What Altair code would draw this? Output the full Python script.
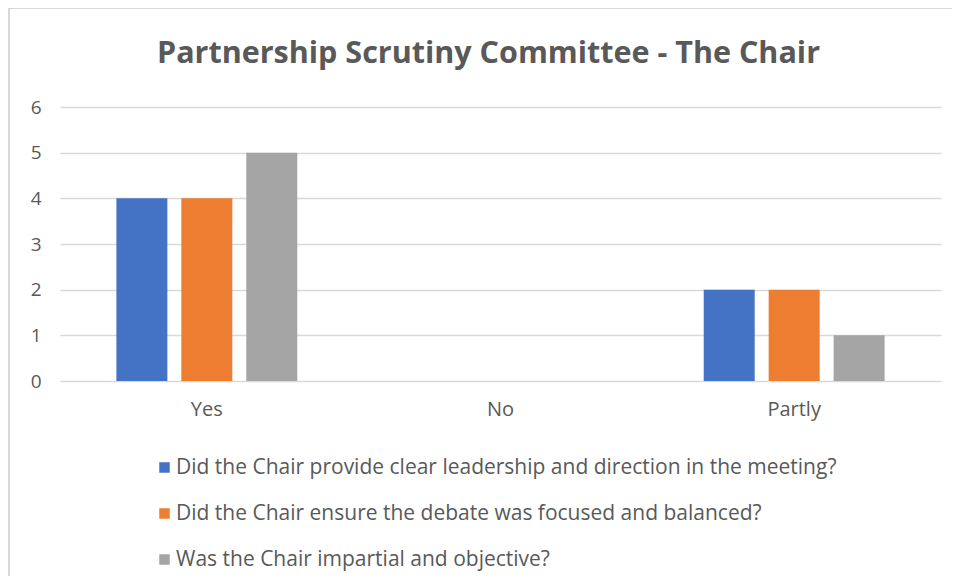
import altair as alt
import pandas as pd

categories = ["Yes", "No", "Partly"]
series_names = [
    "Did the Chair provide clear leadership and direction in the meeting?",
    "Did the Chair ensure the debate was focused and balanced?",
    "Was the Chair impartial and objective?",
]
leadership = [4, 0, 2]
focused = [4, 0, 2]
impartial = [5, 0, 1]
colors = ["#4472C4", "#ED7D31", "#A5A5A5"]

rows = []
for name, vals in zip(series_names, [leadership, focused, impartial]):
    for c, v in zip(categories, vals):
        rows.append({"category": c, "question": name, "value": v})
df = pd.DataFrame(rows)

FONT = "Open Sans"
TXT = "#595959"

bars = alt.Chart(df).mark_bar().encode(
    x=alt.X("category:N", sort=categories, title=None,
            scale=alt.Scale(paddingInner=0.384, paddingOuter=0.192),
            axis=alt.Axis(labelAngle=0, labelFontSize=20, labelColor=TXT, labelFont=FONT,
                          domain=False, ticks=False, labelPadding=18)),
    xOffset=alt.XOffset("question:N", sort=series_names,
                        scale=alt.Scale(paddingInner=0.215, paddingOuter=0)),
    y=alt.Y("value:Q", title=None,
            scale=alt.Scale(domain=[0, 6]),
            axis=alt.Axis(values=[0, 1, 2, 3, 4, 5, 6], labelFontSize=19, labelColor=TXT,
                          labelFont=FONT, domain=False, ticks=False, labelPadding=19,
                          gridColor="#D9D9D9", gridWidth=1.5)),
    color=alt.Color("question:N", sort=series_names,
                    scale=alt.Scale(domain=series_names, range=colors),
                    legend=alt.Legend(title=None, orient="none", legendX=94, legendY=350,
                                      direction="vertical", symbolType="square",
                                      symbolSize=110, symbolStrokeWidth=0,
                                      labelFontSize=21, labelColor=TXT, labelFont=FONT,
                                      rowPadding=24, labelOffset=1, labelLimit=900)),
)

vborder = alt.Chart(pd.DataFrame({"k": [0]})).mark_rule(color="#D9D9D9", strokeWidth=2).encode(
    x=alt.value(-51), y=alt.value(-99), y2=alt.value(500))
hborder = alt.Chart(pd.DataFrame({"k": [0]})).mark_rule(color="#D9D9D9", strokeWidth=2).encode(
    x=alt.value(-51), x2=alt.value(900), y=alt.value(-99))

chart = alt.layer(vborder, hborder, bars).properties(
    width=881, height=274,
    title=alt.TitleParams("Partnership Scrutiny Committee - The Chair", fontSize=30.5,
                          font=FONT, fontWeight="bold", color=TXT, anchor="middle",
                          offset=-62, dx=-12),
    autosize=alt.AutoSizeParams(type="none"),
    padding={"left": 52, "top": 99, "right": 11, "bottom": 195},
).configure_view(stroke=None)

chart.save("out.html", embed_options={"renderer": "svg", "actions": False})
